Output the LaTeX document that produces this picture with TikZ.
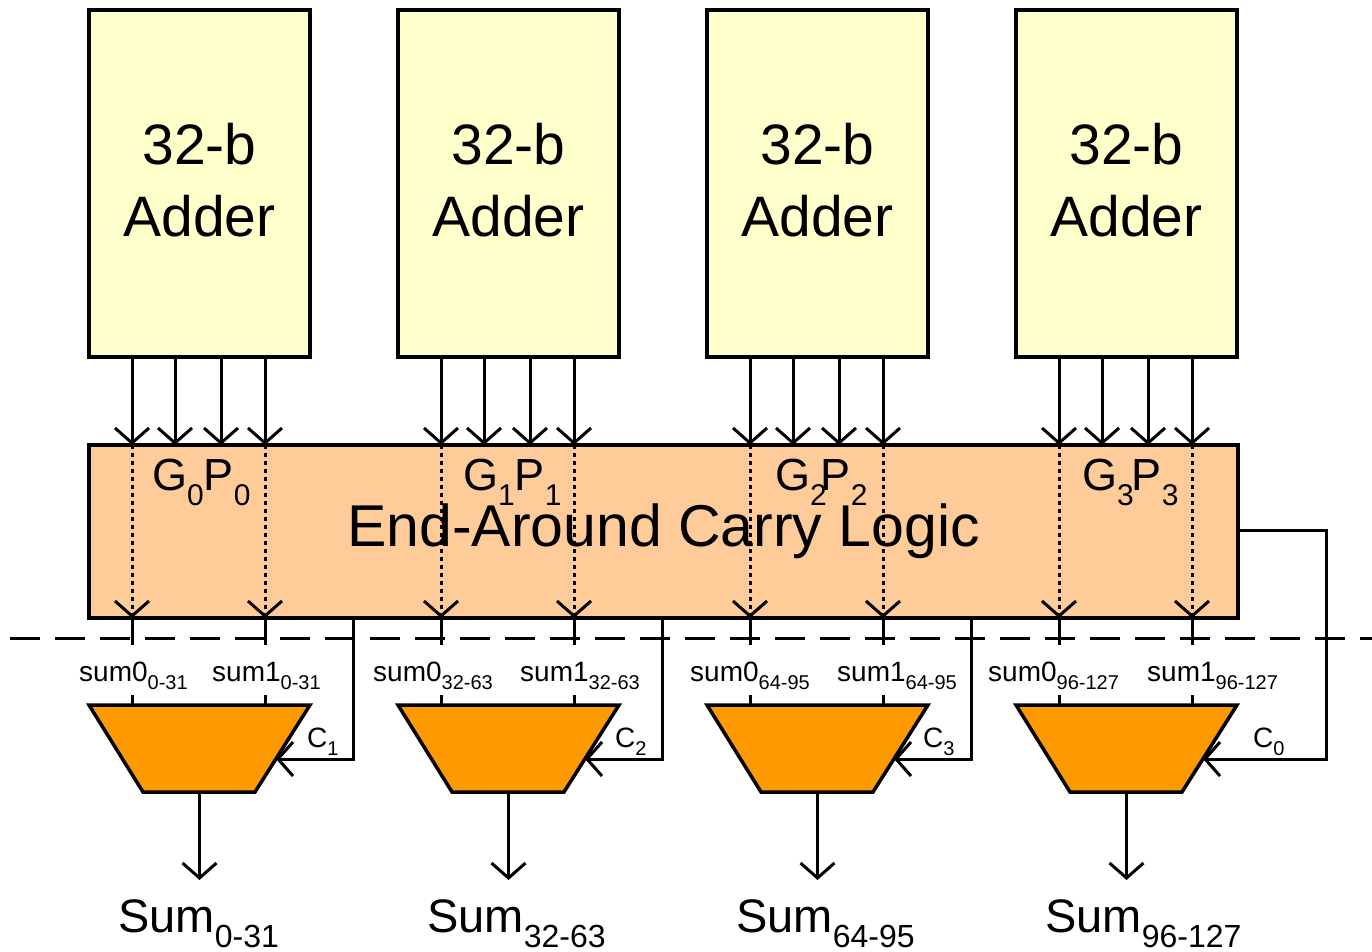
\documentclass[tikz,border=0pt]{standalone}
\usepackage{fontspec}
\setmainfont{Liberation Sans}
\usetikzlibrary{arrows.meta}
\definecolor{adderfill}{HTML}{FFFFCC}
\definecolor{eacfill}{HTML}{FFCC99}
\definecolor{muxfill}{HTML}{FF9900}
\newcommand\lowsub[3]{\raisebox{-#1pt}{\fontsize{#2}{#2}\selectfont #3}}
\begin{document}
\begin{tikzpicture}[x=1pt,y=-1pt,
  box/.style={draw,line width=3.5pt,inner sep=0pt},
  wire/.style={line width=3pt},
  barb/.style={-{Straight Barb[length=15pt,width=34pt]}},
  txt/.style={inner sep=0pt,anchor=base west},
  muxshape/.style={draw,line width=3.5pt,fill=muxfill,line join=miter}]
\useasboundingbox (0,0) rectangle (1372,952);

% End-around carry logic block
\node[box,fill=eacfill,minimum width=1149pt,minimum height=173pt,
      font=\fontsize{59}{61}\selectfont] (eac) at (663.5,531.5) {End-Around Carry Logic};

% dashed separator
\draw[line width=3pt,dash pattern=on 30pt off 15pt,dash phase=-10pt] (0,638) coordinate (dl) -- (1372,638) coordinate (dr);

\foreach \i/\r/\sa/\sb/\sx/\cx/\cs/\gx/\ka in
  {0/0-31/79/212/118/307/1/152/0,
   1/32-63/373/520/427/615/2/463/0,
   2/64-95/690/837/736/923/3/775/-6,
   3/96-127/988/1147/1045/1253/0/1082/-2}{
  % adder
  \node[box,fill=adderfill,minimum width=221pt,minimum height=347pt] (add\i) at ({199.5+309*\i},183.5) {};
  \node[align=center,inner sep=0pt,font=\fontsize{57}{72}\selectfont] (addt\i) at ({199.5+309*\i},180.5) {32-b\\Adder};
  % G/P arrows
  \foreach \xx [count=\j] in {132,175,221,265}{
    \coordinate (o\i\j) at ({\xx+309*\i},357);
    \coordinate (e\i\j) at ({\xx+309*\i},445);
    \draw[wire,barb] (o\i\j) -- (e\i\j);
  }
  \node[txt,font=\fontsize{45}{45}\selectfont] (gp\i) at (\gx,490)
     {G\lowsub{15}{30}{\i}\kern\ka pt P\lowsub{15}{30}{\i}};
  % mux
  \coordinate (mtl\i) at ({89+309*\i},705);
  \coordinate (mtr\i) at ({310+309*\i},705);
  \coordinate (mbr\i) at ({255+309*\i},792);
  \coordinate (mbl\i) at ({143+309*\i},792);
  \draw[muxshape] (mtl\i) -- (mtr\i) -- (mbr\i) -- (mbl\i) -- cycle;
  \coordinate (mout\i) at ({199.5+309*\i},792);
  \coordinate (sum\i) at ({199.5+309*\i},880);
  \draw[wire,barb] (mout\i) -- (sum\i);
  \coordinate (cin\i) at ({276+309*\i},759);
  % sum0 / sum1 paths
  \foreach \xx [count=\j] in {132,265}{
    \coordinate (dt\i\j) at ({\xx+309*\i},445);
    \coordinate (db\i\j) at ({\xx+309*\i},618);
    \coordinate (dd\i\j) at ({\xx+309*\i},645);
    \coordinate (ds\i\j) at ({\xx+309*\i},695);
    \coordinate (dm\i\j) at ({\xx+309*\i},705);
    \draw[wire,barb,dash pattern=on 4pt off 4pt] (dt\i\j) -- (db\i\j);
    \draw[wire] (db\i\j) -- (dd\i\j);
    \draw[wire] (ds\i\j) -- (dm\i\j);
  }
  % labels
  \node[txt,font=\fontsize{28}{28}\selectfont] (sa\i) at (\sa,681) {sum0\lowsub{8}{20}{\r}};
  \node[txt,font=\fontsize{28}{28}\selectfont] (sb\i) at (\sb,681) {sum1\lowsub{8}{20}{\r}};
  \node[txt,font=\fontsize{28}{28}\selectfont] (c\i) at (\cx,747) {C\lowsub{8}{20}{\cs}};
  \node[txt,font=\fontsize{47}{47}\selectfont] (so\i) at (\sx,932) {Sum\lowsub{15}{32}{\r}};
}

% carry connections
\foreach \i in {0,1,2}{
  \coordinate (ct\i) at ({353+309*\i},618);
  \coordinate (cc\i) at ({353+309*\i},759);
  \draw[wire,barb] (ct\i) -- (cc\i) -- (cin\i);
}
\coordinate (c3a) at (1238,530);
\coordinate (c3b) at (1326,530);
\coordinate (c3c) at (1326,759);
\draw[wire,barb] (c3a) -- (c3b) -- (c3c) -- (cin3);
\end{tikzpicture}
\end{document}
